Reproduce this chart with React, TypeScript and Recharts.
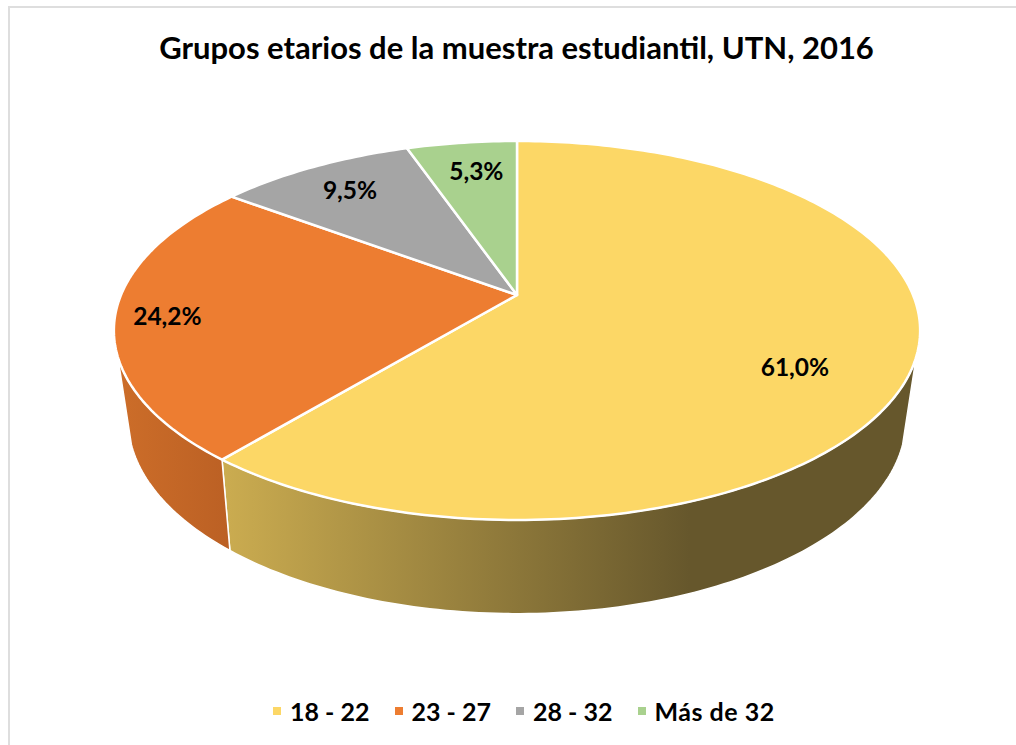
import React from 'react';
import { PieChart, Pie, Cell, Legend } from 'recharts';

const groups = ['18 - 22', '23 - 27', '28 - 32', 'Más de 32'];
const shares = [61.0, 24.2, 9.5, 5.3];
const data = groups.map((name, i) => ({ name, value: shares[i] }));

const COLORS = ['#FCD766', '#ED7D31', '#A5A5A5', '#A9D18E'];
// left and right colour of the side wall, per slice
const WALL_COLORS = [['#CBAC50', '#66572C'], ['#CC6D29', '#BB6024'], ['#777', '#777'], ['#777', '#777']];
const WALL_GRADIENT_X = [[224, 690], [120, 232], [0, 1], [0, 1]];
const LABEL_NUDGE = [[5, 26], [-70, 5], [-19, -12], [0, -13]];

const FONT = 'Lato, sans-serif';

// the top face is a circle seen in perspective, so the centre sits above the middle of the ellipse
const TILT = 0.1873;
const SQUASH = 0.4617;
// same thing for the lower rim of the wall
const LOW_TILT = 0.2;
const LOW_X = 0.962;
const LOW_Y = 0.47;
const LOW_DROP = 86;
const WALL_FROM = 108.6;
const WALL_TO = 251.4;

const toRad = (d: number) => (d * Math.PI) / 180;

const topPoint = (cx: number, cy: number, R: number, clock: number, r = 1) => {
  const u = Math.sin(toRad(clock)) * r;
  const v = Math.cos(toRad(clock)) * r;
  const w = 1 + TILT * v;
  return [cx + (R * u) / w, cy - (R * SQUASH * v) / w];
};

const lowPoint = (cx: number, cy: number, R: number, clock: number) => {
  const u = Math.sin(toRad(clock));
  const v = Math.cos(toRad(clock));
  const w = 1 + LOW_TILT * v;
  return [cx + (R * LOW_X * u) / w, cy + LOW_DROP - (R * LOW_Y * v) / w];
};

const arc = (from: number, to: number) => {
  const out: number[] = [];
  for (let a = from; a < to; a += 1) out.push(a);
  out.push(to);
  return out;
};

const toPath = (pts: number[][]) =>
  pts.map((p, i) => `${i ? 'L' : 'M'}${p[0].toFixed(2)},${p[1].toFixed(2)}`).join(' ') + ' Z';

const SliceShape = (props: any) => {
  const { cx, cy, outerRadius, startAngle, endAngle, index, fill } = props;
  const i = index ?? data.findIndex((d) => d.name === props.name);
  // recharts angles are counter clockwise from 3 o'clock
  const from = 90 - startAngle;
  const to = 90 - endAngle;
  const wallFrom = Math.max(from, WALL_FROM);
  const wallTo = Math.min(to, WALL_TO);
  const hasWall = wallTo > wallFrom;
  const top = [[cx, cy], ...arc(from, to).map((a) => topPoint(cx, cy, outerRadius, a))];
  return (
    <g>
      {hasWall && (
        <>
          <defs>
            <linearGradient id={`wall-${i}`} gradientUnits="userSpaceOnUse" x1={WALL_GRADIENT_X[i][0]} x2={WALL_GRADIENT_X[i][1]} y1={0} y2={0}>
              <stop offset="0%" stopColor={WALL_COLORS[i][0]} />
              <stop offset="100%" stopColor={WALL_COLORS[i][1]} />
            </linearGradient>
          </defs>
          <path
            d={toPath([
              ...arc(wallFrom, wallTo).map((a) => topPoint(cx, cy, outerRadius, a)),
              ...arc(wallFrom, wallTo).reverse().map((a) => lowPoint(cx, cy, outerRadius, a)),
            ])}
            fill={`url(#wall-${i})`}
            stroke="#fff"
            strokeWidth={1.5}
            strokeLinejoin="round"
          />
        </>
      )}
      <path d={toPath(top)} fill={fill} stroke="#fff" strokeWidth={2.5} strokeLinejoin="round" />
    </g>
  );
};

const renderLabel = (props: any) => {
  const { cx, cy, outerRadius, midAngle, index, value } = props;
  const p = topPoint(cx, cy, outerRadius, 90 - midAngle, 0.7);
  return (
    <text
      x={p[0] + LABEL_NUDGE[index][0]}
      y={p[1] + LABEL_NUDGE[index][1]}
      textAnchor="middle"
      dominantBaseline="central"
      fontFamily={FONT}
      fontWeight={700}
      fontSize={24.5}
      fill="#000"
    >
      {value.toFixed(1).replace('.', ',')}%
    </text>
  );
};

const renderLegend = () => (
  <div style={{ display: 'flex', paddingLeft: 273, fontFamily: FONT, fontWeight: 700, fontSize: 25, color: '#000' }}>
    {groups.map((g, i) => (
      <div key={g} style={{ display: 'flex', alignItems: 'center', width: i < groups.length - 1 ? 121.5 : 'auto' }}>
        <span style={{ width: 8, height: 8, background: COLORS[i], marginRight: 9, flexShrink: 0 }} />
        <span style={{ whiteSpace: 'nowrap', letterSpacing: i === 3 ? 0.5 : 0 }}>{g}</span>
      </div>
    ))}
  </div>
);

const App: React.FC = () => (
  <div style={{ position: 'absolute', left: 0, top: 0, width: 1016, height: 745, background: '#fff', overflow: 'hidden' }}>
    <div style={{ position: 'absolute', left: 8, top: 6, width: 1100, height: 800, borderLeft: '2px solid #DEDEDE', borderTop: '2px solid #DEDEDE' }} />
    <div
      style={{
        position: 'absolute',
        left: 0,
        top: 28,
        width: 1033,
        textAlign: 'center',
        fontFamily: FONT,
        fontWeight: 700,
        fontSize: 31,
        lineHeight: '38px',
        color: '#000',
      }}
    >
      Grupos etarios de la muestra estudiantil, UTN, 2016
    </div>
    <div style={{ position: 'absolute', left: 0, top: 0 }}>
      <PieChart width={1016} height={745} margin={{ top: 0, right: 0, bottom: 0, left: 0 }}>
        <Pie
          data={data}
          dataKey="value"
          nameKey="name"
          cx={517}
          cy={295}
          outerRadius={396}
          startAngle={90}
          endAngle={-270}
          stroke="#fff"
          shape={SliceShape}
          label={renderLabel}
          labelLine={false}
          isAnimationActive={false}
        >
          {data.map((d, i) => (
            <Cell key={d.name} fill={COLORS[i]} />
          ))}
        </Pie>
        <Legend content={renderLegend} wrapperStyle={{ left: 0, top: 696, width: 1016 }} />
      </PieChart>
    </div>
  </div>
);

export default App;
